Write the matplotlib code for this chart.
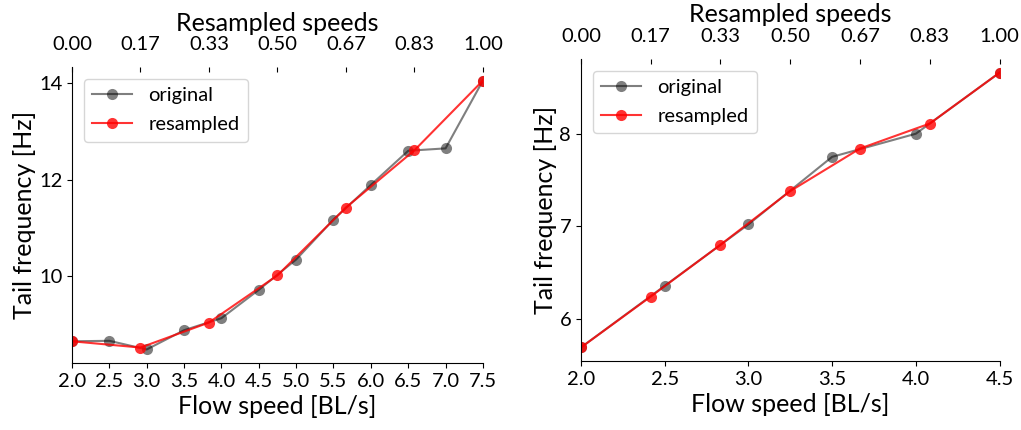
import matplotlib
matplotlib.use("Agg")
import matplotlib.pyplot as plt
import numpy as np

plt.rcParams['font.family'] = ['Lato', 'DejaVu Sans']

# left panel
left_orig_x = [2.0, 2.5, 3.0, 3.5, 4.0, 4.5, 5.0, 5.5, 6.0, 6.5, 7.0, 7.5]
left_orig_y = [8.64, 8.65, 8.47, 8.87, 9.12, 9.71, 10.34, 11.17, 11.89, 12.60, 12.65, 14.06]
left_res_x = [2.0, 2.9167, 3.8333, 4.75, 5.6667, 6.5833, 7.5]
left_res_y = [8.64, 8.51, 9.03, 10.01, 11.42, 12.61, 14.06]

# right panel
right_orig_x = [2.0, 2.5, 3.0, 3.5, 4.0, 4.5]
right_orig_y = [5.69, 6.356, 7.02, 7.75, 8.0, 8.66]
right_res_x = [2.0, 2.4167, 2.8333, 3.25, 3.6667, 4.0833, 4.5]
right_res_y = [5.69, 6.24, 6.80, 7.38, 7.84, 8.11, 8.66]

top_ticks = [0.0, 1/6, 2/6, 3/6, 4/6, 5/6, 1.0]
top_labels = ["0.00", "0.17", "0.33", "0.50", "0.67", "0.83", "1.00"]
left_xticks = [2.0, 2.5, 3.0, 3.5, 4.0, 4.5, 5.0, 5.5, 6.0, 6.5, 7.0, 7.5]
left_yticks = [10, 12, 14]
right_xticks = [2.0, 2.5, 3.0, 3.5, 4.0, 4.5]
right_yticks = [6, 7, 8]

fig = plt.figure(figsize=(10.21, 4.3), dpi=100)
ax1 = fig.add_axes([0.0705, 0.156, 0.4025, 0.688])
ax2 = fig.add_axes([0.569, 0.160, 0.410, 0.703])


def draw(ax, ox, oy, rx, ry, xticks, yticks):
    ax.plot(ox, oy, '-o', color='k', alpha=0.5, ms=8, mew=0, lw=1.5, label='original')
    ax.plot(rx, ry, '-o', color='r', alpha=0.8, ms=8, mew=0, lw=1.5, label='resampled')
    ax.set_xlim(min(ox), max(ox))
    ax.set_xticks(xticks)
    ax.set_xticklabels([f"{t:.1f}" for t in xticks])
    ax.set_yticks(yticks)
    ax.tick_params(labelsize=14.5)
    ax.set_xlabel("Flow speed [BL/s]", fontsize=18)
    ax.set_ylabel("Tail frequency [Hz]", fontsize=18, labelpad=2)
    ax.spines['top'].set_visible(False)
    ax.spines['right'].set_visible(False)
    ax.legend(loc='upper left', fontsize=14.5, framealpha=0.8, labelspacing=0.6,
              borderaxespad=0.6)
    top = ax.twiny()
    top.set_xlim(0, 1)
    top.set_xticks(top_ticks)
    top.set_xticklabels(top_labels)
    top.tick_params(axis='x', direction='in', labelsize=14.5, pad=10)
    for s in top.spines.values():
        s.set_visible(False)
    top.set_xlabel("Resampled speeds", fontsize=18)


draw(ax1, left_orig_x, left_orig_y, left_res_x, left_res_y, left_xticks, left_yticks)
draw(ax2, right_orig_x, right_orig_y, right_res_x, right_res_y, right_xticks, right_yticks)

fig.savefig("out.png", dpi=100)
